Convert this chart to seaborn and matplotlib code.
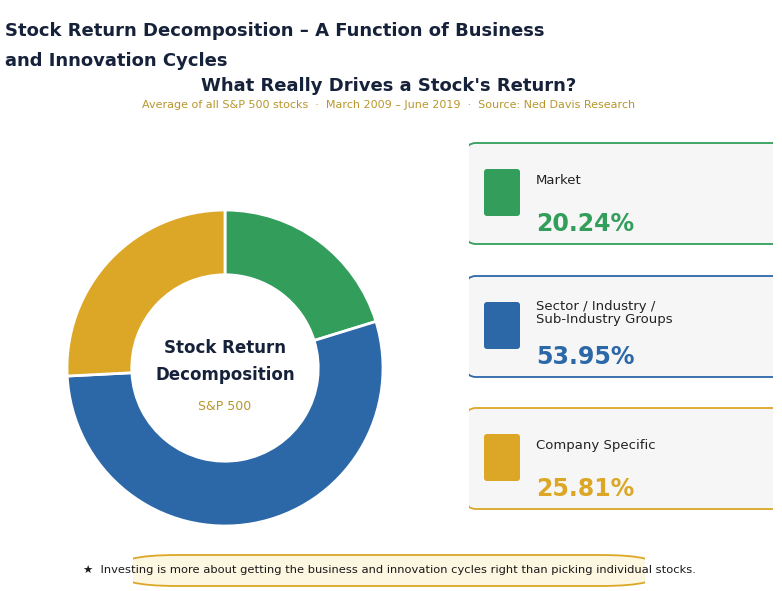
import matplotlib
matplotlib.use("Agg")
import matplotlib.pyplot as plt
import seaborn as sns
from matplotlib.patches import FancyBboxPatch

sns.set_theme(style="white")
plt.rcParams['font.family'] = ['DejaVu Sans']

# data
segments = ["Market", "Sector / Industry /\nSub-Industry Groups", "Company Specific"]
shares = [20.24, 53.95, 25.81]
colors = ["#339e5b", "#2c68a8", "#dca726"]

NAVY = "#16213a"
GOLD_TXT = "#b8962c"

fig = plt.figure(figsize=(7.82, 5.91), dpi=100)
W, H = 782, 591

# titles
fig.text(5 / W, 1 - 31 / H, "Stock Return Decomposition \u2013 A Function of Business",
         fontsize=13, fontweight="bold", color=NAVY, va="center", ha="left")
fig.text(5 / W, 1 - 61 / H, "and Innovation Cycles",
         fontsize=13, fontweight="bold", color=NAVY, va="center", ha="left")
fig.text(389 / W, 1 - 86 / H, "What Really Drives a Stock's Return?",
         fontsize=13, fontweight="bold", color=NAVY, va="center", ha="center")
fig.text(389 / W, 1 - 105 / H,
         "Average of all S&P 500 stocks  \u00b7  March 2009 \u2013 June 2019  \u00b7  Source: Ned Davis Research",
         fontsize=8.05, color=GOLD_TXT, va="center", ha="center")

# donut
ax = fig.add_axes([67 / W, 1 - 526 / H, 316 / W, 316 / H])
ax.pie(shares, colors=colors, startangle=90, counterclock=False,
       wedgeprops=dict(width=0.41, edgecolor="white", linewidth=2))
ax.set_xlim(-1.0, 1.0)
ax.set_ylim(-1.0, 1.0)
ax.set_aspect("equal")
ax.axis("off")
ax.text(0, 0.125, "Stock Return", ha="center", va="center", fontsize=12,
        fontweight="bold", color=NAVY)
ax.text(0, -0.045, "Decomposition", ha="center", va="center", fontsize=12,
        fontweight="bold", color=NAVY)
ax.text(0, -0.245, "S&P 500", ha="center", va="center", fontsize=9, color=GOLD_TXT)


def px_axes(x0, x1, y0, y1):
    # axes whose data units are figure pixels (y measured upward from bottom)
    a = fig.add_axes([x0 / W, 1 - y1 / H, (x1 - x0) / W, (y1 - y0) / H])
    a.set_xlim(x0, x1)
    a.set_ylim(H - y1, H - y0)
    a.axis("off")
    return a


# cards
cax = px_axes(469, 773, 138, 514)
tops = [143, 276, 408]
for top, label, val, col in zip(tops, segments, shares, colors):
    card = FancyBboxPatch((466, H - top - 101), 320, 101,
                          boxstyle="round,pad=0,rounding_size=10",
                          facecolor="#f6f6f6", edgecolor=col, linewidth=1.3)
    cax.add_patch(card)
    sw = FancyBboxPatch((484, H - top - 73), 36, 47,
                        boxstyle="round,pad=0,rounding_size=3",
                        facecolor=col, edgecolor="none")
    cax.add_patch(sw)
    cax.text(536, H - top - 37, label, fontsize=9.5, color="#222222",
             va="center", ha="left", linespacing=1.0)
    cax.text(536, H - top - 81, f"{val:.2f}%", fontsize=17, fontweight="bold",
             color=col, va="center", ha="left")

# footer
fax = px_axes(133, 645, 552, 589)
foot = FancyBboxPatch((117, H - 586), 544, 31,
                      boxstyle="round,pad=0,rounding_size=60",
                      mutation_aspect=0.25,
                      facecolor="#fdf6e1", edgecolor="#dca726", linewidth=1.3)
fax.add_patch(foot)
fig.text(389 / W, 1 - 570 / H,
         "\u2605  Investing is more about getting the business and innovation cycles right than picking individual stocks.",
         fontsize=8.25, color="#1a1a1a", va="center", ha="center")

fig.savefig("out.png", dpi=100, facecolor="white")
